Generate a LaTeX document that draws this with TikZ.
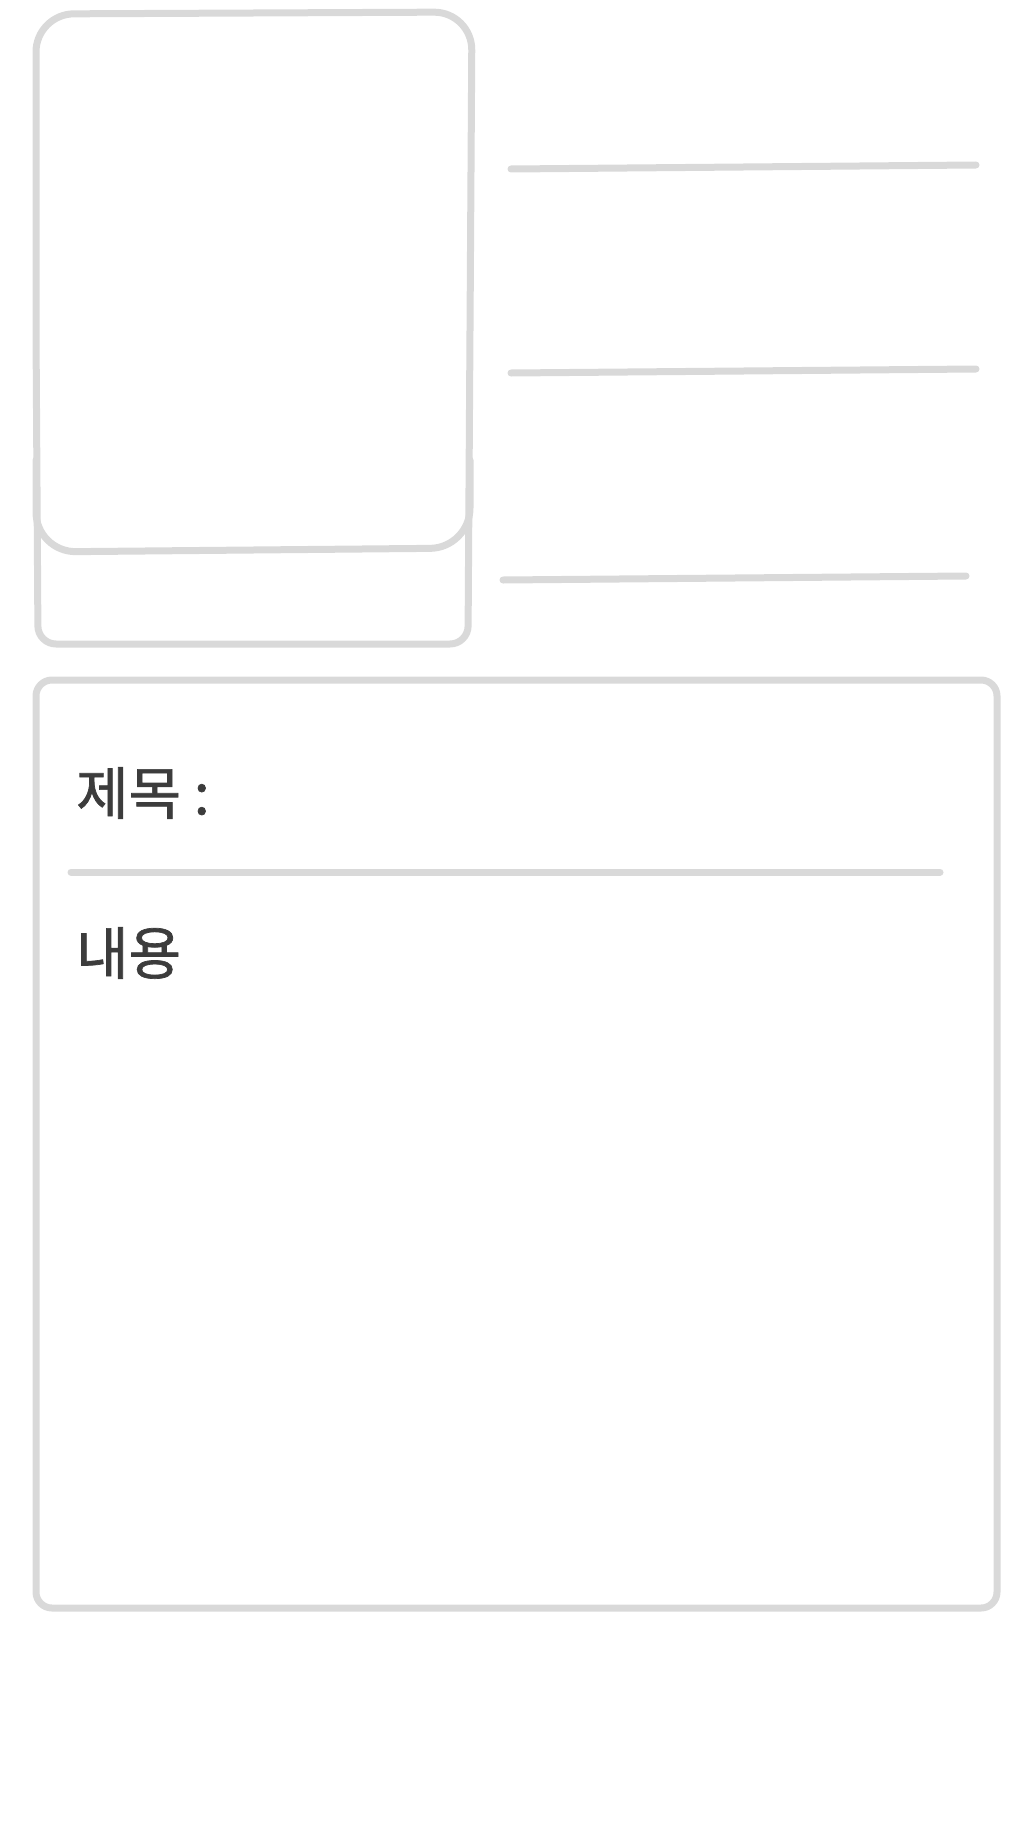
\documentclass[tikz,border=0pt]{standalone}
\usepackage{fontspec}
\newfontfamily\krfont[FakeBold=1.2]{Noto Sans CJK KR}
\usepackage{tikz}
\usetikzlibrary{positioning}
\definecolor{pencil}{HTML}{D9D9D9}
\definecolor{ink}{HTML}{3C3C3C}
\tikzstyle{sketch} = [draw=pencil, line width=7pt, line cap=round, line join=round]
\tikzstyle{label} = [anchor=west, inner sep=0pt, text=ink, font=\krfont\fontsize{57}{60}\selectfont]

\begin{document}
\begin{tikzpicture}[x=1pt, y=-1pt]
    \useasboundingbox (0,0) rectangle (1026,1830);

    % Photo frame
    \draw[sketch] (36,330) [rounded corners=38pt] -- (36,14) -- (472,12) -- (470,330)
        [rounded corners=18pt] -- (468,644) -- (38,644) -- cycle;
    \draw[sketch, rounded corners=40pt] (36,460) -- (36,552) -- (470,548) -- (470,460);

    % Info lines
    \draw[sketch] (511,169) -- (976,165);
    \draw[sketch] (511,373) -- (976,369);
    \draw[sketch] (503,580) -- (966,576);

    % Post box
    \draw[sketch, rounded corners=16pt] (36,680) rectangle (997,1608);
    \node[label] (title) at (76,793) {제목 :};
    \draw[sketch] (71,872) -- (940,872);
    \node[label] (body) at (76,953) {내용};
\end{tikzpicture}
\end{document}
